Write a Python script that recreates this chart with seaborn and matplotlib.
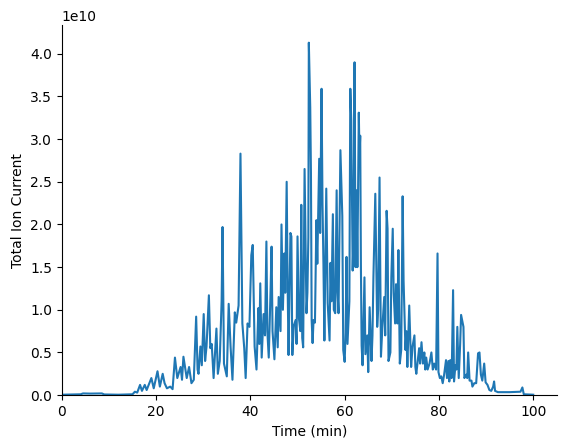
import pandas as pd
import matplotlib.pyplot as plt
import seaborn as sns

# chromatogram, peaks and valleys (intensity in units of 1e10)
time_min = [
    0, 2, 4, 4.5, 6, 8.5, 9, 12, 15, 15.5, 16, 16.6, 17, 17.6, 18, 19, 19.5, 20.3, 20.8, 21.4,
    21.8, 22.3, 23.0, 23.5, 24.0, 24.5, 25.2, 25.5, 25.8, 26.5, 27.0, 27.5, 28.0, 28.5, 28.8, 29.0,
    29.4, 29.7, 30.1, 30.4, 30.7, 31.2, 31.5, 31.8, 32.2, 32.8, 33.1, 33.5, 33.9, 34.1, 34.4, 35.0,
    35.4, 35.8, 36.2, 36.7, 37.0, 37.5, 37.9, 38.3, 38.7, 39.0, 39.4, 39.8, 40.2, 40.5, 40.9, 41.3,
    41.7, 41.9, 42.1, 42.4, 42.8, 43.1, 43.4, 43.6, 43.9, 44.3, 44.5, 44.7, 45.1, 45.5, 45.8, 46.0,
    46.4, 46.6, 46.9, 47.2, 47.4, 47.7, 47.9, 48.1, 48.5, 48.7, 48.9, 49.2, 49.6, 49.8, 50.0, 50.3,
    50.6, 50.8, 51.0, 51.2, 51.5, 51.9, 52.1, 52.3, 52.4, 52.7, 52.85, 53.0, 53.2, 53.4, 53.7, 54.0,
    54.2, 54.6, 54.8, 55.1, 55.3, 55.5, 55.7, 56.1, 56.4, 56.8, 57.0, 57.2, 57.5, 57.7, 58.0, 58.3,
    58.5, 58.7, 59.1, 59.3, 59.5, 59.7, 60.0, 60.2, 60.4, 60.6, 61.0, 61.2, 61.4, 61.7, 61.9, 62.1,
    62.3, 62.5, 62.7, 63.0, 63.15, 63.3, 63.45, 63.6, 63.8, 64.2, 64.4, 64.8, 65.0, 65.3, 65.7, 65.9,
    66.1, 66.5, 66.9, 67.1, 67.4, 67.7, 68.0, 68.4, 68.6, 68.9, 69.1, 69.3, 69.7, 69.9, 70.2, 70.4,
    70.7, 70.9, 71.2, 71.4, 71.7, 72.0, 72.3, 72.5, 72.9, 73.1, 73.3, 73.7, 74.1, 74.4, 74.8, 75.0,
    75.2, 75.5, 75.8, 76.0, 76.3, 76.6, 76.9, 77.1, 77.3, 77.6, 78.0, 78.4, 78.7, 79.0, 79.4, 79.7,
    79.9, 80.2, 80.5, 80.8, 81.1, 81.5, 81.7, 82.0, 82.2, 82.4, 82.7, 83.0, 83.2, 83.5, 83.7, 83.9,
    84.2, 84.5, 84.7, 85.2, 85.4, 85.8, 86.0, 86.2, 86.5, 86.9, 87.1, 87.5, 87.9, 88.3, 88.6, 88.9,
    89.2, 89.6, 89.9, 90.3, 90.7, 91.1, 91.5, 91.7, 91.9, 92.5, 95.0, 97.3, 97.7, 98.0, 100,
]
tic_e10 = [
    0.005, 0.008, 0.01, 0.02, 0.018, 0.02, 0.008, 0.005, 0.01, 0.04, 0.03, 0.12, 0.05, 0.12, 0.06, 0.2, 0.08, 0.28, 0.1, 0.25,
    0.14, 0.08, 0.1, 0.07, 0.44, 0.2, 0.33, 0.18, 0.45, 0.2, 0.33, 0.14, 0.18, 0.92, 0.3, 0.25,
    0.57, 0.35, 0.95, 0.4, 0.57, 1.17, 0.55, 0.6, 0.2, 0.78, 0.25, 0.4, 1.1, 1.97, 0.37, 0.22,
    1.07, 0.57, 0.18, 0.97, 0.85, 1.05, 2.83, 0.84, 0.55, 0.2, 0.84, 0.8, 1.64, 1.76, 0.57, 0.3,
    1.02, 0.6, 1.31, 0.44, 0.95, 0.7, 1.8, 0.75, 0.44, 1.26, 1.74, 0.75, 0.42, 1.03, 0.56, 1.15,
    0.75, 2.0, 1.0, 1.66, 1.2, 2.5, 1.3, 0.47, 1.9, 1.86, 0.47, 0.81, 0.88, 0.6, 1.86, 0.9,
    0.75, 2.23, 0.67, 0.56, 2.65, 0.96, 1.2, 1.85, 4.13, 3.37, 2.6, 0.88, 0.61, 0.88, 0.85, 2.05,
    1.54, 2.77, 1.9, 3.59, 2.24, 1.54, 0.64, 2.42, 1.08, 0.64, 1.55, 1.1, 2.12, 1.0, 0.96, 2.4,
    1.2, 0.96, 2.87, 2.5, 2.1, 0.53, 0.39, 0.73, 1.62, 0.6, 1.1, 3.59, 3.22, 1.46, 1.9, 3.9,
    1.5, 2.4, 1.5, 3.31, 2.8, 3.04, 1.5, 0.58, 0.35, 1.38, 0.48, 0.7, 0.27, 1.03, 0.4, 0.7,
    1.38, 2.36, 0.8, 1.0, 2.55, 0.45, 0.8, 1.15, 0.7, 2.16, 1.95, 0.4, 0.5, 1.38, 1.95, 1.2,
    0.84, 1.3, 0.84, 1.7, 0.37, 0.53, 2.33, 1.34, 0.53, 0.75, 0.33, 1.05, 0.33, 0.57, 0.7, 0.33,
    0.25, 0.4, 0.55, 0.37, 0.62, 0.37, 0.5, 0.3, 0.44, 0.3, 0.37, 0.5, 0.3, 0.37, 0.3, 1.66,
    0.27, 0.2, 0.22, 0.14, 0.24, 0.41, 0.2, 0.4, 0.16, 0.41, 0.2, 1.23, 0.16, 0.35, 0.3, 0.8,
    0.2, 0.6, 0.94, 0.8, 0.2, 0.24, 0.2, 0.5, 0.17, 0.17, 0.1, 0.14, 0.14, 0.49, 0.5, 0.24,
    0.17, 0.37, 0.15, 0.12, 0.06, 0.05, 0.1, 0.16, 0.05, 0.035, 0.035, 0.04, 0.09, 0.01, 0.005,
]

df = pd.DataFrame({"Time (min)": time_min, "Total Ion Current": [v * 1e10 for v in tic_e10]})

fig = plt.figure(figsize=(5.67, 4.48))
ax = sns.lineplot(data=df, x="Time (min)", y="Total Ion Current", estimator=None, color="C0", linewidth=1.5)
plt.subplots_adjust(left=0.109, right=0.982, bottom=0.118, top=0.944)
ax.set_xlim(left=0)
ax.set_ylim(bottom=0)
sns.despine()
plt.savefig("out.png", dpi=100)
